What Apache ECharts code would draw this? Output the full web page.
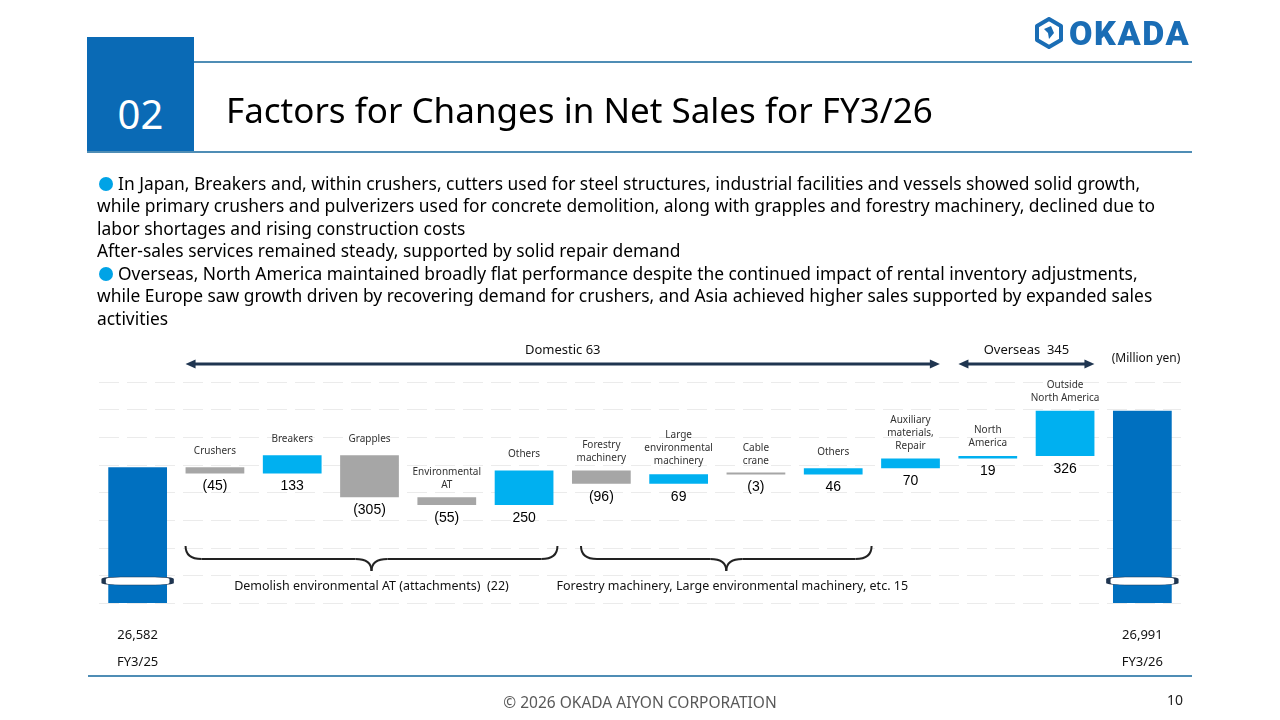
<!DOCTYPE html>
<html>
<head>
<meta charset="utf-8">
<script src="https://cdn.jsdelivr.net/npm/echarts@6/dist/echarts.min.js"></script>
<style>
	body { margin: 0; background: #fff; }
	#slide { position: relative; width: 1280px; height: 720px; overflow: hidden; font-family: 'Noto Sans', sans-serif; color: #000; }
	#chart { position: absolute; left: 0; top: 0; width: 1280px; height: 720px; }
	.abs { position: absolute; white-space: nowrap; }
	.line { position: absolute; height: 2px; background: #4f8db5; }
	.bullet-text { position: absolute; left: 97px; top: 172px; font-size: 17.4px; line-height: 22.3px; white-space: nowrap; }
	.dot { display: inline-block; width: 14px; height: 14px; border-radius: 50%; background: #00a3e6; margin: 0 5px 0 2px; vertical-align: -1px; }
</style>
</head>
<body>
<div id="slide">
	<div id="chart"></div>

	<!-- header -->
	<div class="abs" style="left:87px;top:37px;width:107px;height:116px;background:#0a6ab5"></div>
	<div class="abs" style="left:87px;top:88px;width:107px;text-align:center;font-size:40px;line-height:52px;color:#fff">02</div>
	<div class="line" style="left:194px;top:61px;width:998px"></div>
	<div class="line" style="left:87px;top:151px;width:1105px"></div>
	<div class="abs" style="left:226px;top:85px;font-size:35px;line-height:50px">Factors for Changes in Net Sales for FY3/26</div>

	<!-- logo -->
	<svg class="abs" style="left:1034px;top:17px" width="30" height="32" viewBox="0 0 30 32">
		<polygon points="15,2 27,9 27,23 15,30 3,23 3,9" fill="none" stroke="#1a6db5" stroke-width="4" stroke-linejoin="round"/>
		<polygon points="10,12 17,9 20,16 15,22 14,16" fill="#1a6db5"/>
	</svg>
	<div class="abs" style="left:1069px;top:12px;font-family:Roboto, sans-serif;font-weight:900;font-size:34px;line-height:42px;color:#1a6db5;letter-spacing:1.6px">OKADA</div>

	<!-- bullets -->
	<div class="bullet-text">
		<div><span class="dot"></span>In Japan, Breakers and, within crushers, cutters used for steel structures, industrial facilities and vessels showed solid growth,</div>
		<div>while primary crushers and pulverizers used for concrete demolition, along with grapples and forestry machinery, declined due to</div>
		<div>labor shortages and rising construction costs</div>
		<div>After-sales services remained steady, supported by solid repair demand</div>
		<div style="margin-top:1px"><span class="dot"></span>Overseas, North America maintained broadly flat performance despite the continued impact of rental inventory adjustments,</div>
		<div>while Europe saw growth driven by recovering demand for crushers, and Asia achieved higher sales supported by expanded sales</div>
		<div>activities</div>
	</div>

	<!-- footer -->
	<div class="line" style="left:88px;top:675px;width:1104px;height:1.5px"></div>
	<div class="abs" style="left:0;width:1280px;top:691px;text-align:center;font-size:15.5px;color:#595959">© 2026 OKADA AIYON CORPORATION</div>
	<div class="abs" style="left:1167px;top:690px;font-size:14px;color:#222">10</div>
</div>

<script>
// Waterfall data (million yen)
var categories = ['FY3/25', 'Crushers', 'Breakers', 'Grapples', 'Environmental\nAT', 'Others',
	'Forestry\nmachinery', 'Large\nenvironmental\nmachinery', 'Cable\ncrane', 'Others',
	'Auxiliary\nmaterials,\nRepair', 'North\nAmerica', 'Outside\nNorth America', 'FY3/26']
var startValue = 26582
var endValue = 26991
var changes = [-45, 133, -305, -55, 250, -96, 69, -3, 46, 70, 19, 326]
var totalLabels = ['26,582', '26,991']
var periodLabels = ['FY3/25', 'FY3/26']

// Axis scale
var axisMin = 25600
var axisMax = 27200
var axisStep = 200
var breakValue = 25760

// Group annotations
var groupArrows = [
	{ text: 'Domestic 63', from: 1, to: 10 },
	{ text: 'Overseas  345', from: 11, to: 12 },
]
var groupBraces = [
	{ text: 'Demolish environmental AT (attachments)  (22)', from: 1, to: 5 },
	{ text: 'Forestry machinery, Large environmental machinery, etc. 15', from: 6, to: 9 },
]

var COLOR_TOTAL = '#0070c0'
var COLOR_UP = '#00b0f0'
var COLOR_DOWN = '#a6a6a6'
var NAVY = '#1f3550'

// Build stacked waterfall series
var baseData = []
var barData = []
var capData = []
var running = startValue
var last = categories.length - 1

baseData.push(0)
barData.push({ value: startValue, itemStyle: { color: COLOR_TOTAL }, label: { show: false } })
capData.push('-')
changes.forEach(function (d, i) {
	var next = running + d
	baseData.push(Math.min(running, next))
	barData.push({ value: Math.abs(d), itemStyle: { color: d < 0 ? COLOR_DOWN : COLOR_UP } })
	// single-line names sit a little higher above their bars
	var multi = categories[i + 1].indexOf('\n') >= 0
	capData.push({ value: 0, label: { distance: multi ? 6 : 10 } })
	running = next
})
baseData.push(0)
barData.push({ value: endValue, itemStyle: { color: COLOR_TOTAL }, label: { show: false } })
capData.push('-')

var fmtChange = function (d) {
	return d < 0 ? '(' + Math.abs(d) + ')' : String(d)
}

var chart = echarts.init(document.getElementById('chart'))

var gridLeft = 99, gridTop = 382, gridWidth = 1082, gridHeight = 221

var option = {
	animation: false,
	grid: { left: gridLeft, top: gridTop, width: gridWidth, height: gridHeight },
	xAxis: {
		type: 'category',
		data: categories,
		axisLine: { show: false },
		axisTick: { show: false },
		axisLabel: {
			interval: 0,
			margin: 19,
			formatter: function (value, index) {
				if (index === 0) return '{v|' + totalLabels[0] + '}\n{p|' + periodLabels[0] + '}'
				if (index === last) return '{v|' + totalLabels[1] + '}\n{p|' + periodLabels[1] + '}'
				return ''
			},
			rich: {
				v: { fontFamily: 'Noto Sans', fontSize: 13, color: '#111', lineHeight: 27 },
				p: { fontFamily: 'Noto Sans', fontSize: 13, color: '#111', lineHeight: 27 },
			},
		},
	},
	yAxis: {
		type: 'value',
		min: axisMin,
		max: axisMax,
		interval: axisStep,
		axisLabel: { show: false },
		axisLine: { show: false },
		axisTick: { show: false },
		splitLine: { lineStyle: { color: '#ebebeb', type: [20, 8], width: 1 } },
	},
	series: [
		{
			type: 'bar',
			stack: 'wf',
			barWidth: '76%',
			itemStyle: { color: 'transparent' },
			data: baseData,
			silent: true,
		},
		{
			type: 'bar',
			stack: 'wf',
			barMinHeight: 2,
			data: barData,
			label: {
				show: true,
				position: 'bottom',
				distance: 6,
				fontFamily: 'Liberation Sans',
				fontSize: 14,
				color: '#000',
				formatter: function (p) {
					return fmtChange(changes[p.dataIndex - 1])
				},
			},
		},
		{
			type: 'bar',
			stack: 'wf',
			data: capData,
			label: {
				show: true,
				position: 'top',
				distance: 6,
				fontFamily: 'Noto Sans',
				fontSize: 10,
				lineHeight: 13,
				color: '#333',
				formatter: function (p) {
					return categories[p.dataIndex]
				},
			},
		},
		{
			// axis break marks on the two total bars
			type: 'scatter',
			symbol: 'roundRect',
			symbolSize: [68, 8],
			z: 5,
			itemStyle: { color: '#fff', opacity: 1, borderColor: NAVY, borderWidth: 1.5 },
			data: [[0, breakValue], [last, breakValue]],
			silent: true,
		},
	],
}

chart.setOption(option)

// Annotations placed from the category axis
var band = gridWidth / categories.length
var halfBar = band * 0.38
var xAt = function (i) {
	return chart.convertToPixel({ xAxisIndex: 0 }, i)
}

var graphics = []
var arrowY = 364
groupArrows.forEach(function (g) {
	var x1 = xAt(g.from) - halfBar
	var x2 = xAt(g.to) + halfBar
	graphics.push({
		type: 'line',
		shape: { x1: x1 + 6, y1: arrowY, x2: x2 - 6, y2: arrowY },
		style: { stroke: NAVY, lineWidth: 3 },
	})
	graphics.push({
		type: 'polygon',
		shape: { points: [[x1, arrowY], [x1 + 10, arrowY - 4.5], [x1 + 10, arrowY + 4.5]] },
		style: { fill: NAVY },
	})
	graphics.push({
		type: 'polygon',
		shape: { points: [[x2, arrowY], [x2 - 10, arrowY - 4.5], [x2 - 10, arrowY + 4.5]] },
		style: { fill: NAVY },
	})
	graphics.push({
		type: 'text',
		x: (x1 + x2) / 2,
		y: 350,
		style: { text: g.text, font: '13px "Noto Sans"', fill: '#111', align: 'center', verticalAlign: 'middle' },
	})
})

graphics.push({
	type: 'text',
	x: 1146,
	y: 359,
	style: { text: '(Million yen)', font: '12px "Noto Sans"', fill: '#111', align: 'center', verticalAlign: 'middle' },
})

// Curly braces under the bar groups (second one sits a bit to the right, as in the slide)
var braceShift = [[0, 4], [9, 9]]
var yTop = 546, yMid = 559, yTip = 571, r = 16
var braceStyle = { fill: null, stroke: '#222', lineWidth: 2 }
var curve = function (x1, y1, cx, cy, x2, y2) {
	graphics.push({ type: 'bezierCurve', shape: { x1: x1, y1: y1, cpx1: cx, cpy1: cy, x2: x2, y2: y2 }, style: braceStyle })
}
groupBraces.forEach(function (g, k) {
	var x1 = xAt(g.from) - halfBar + braceShift[k][0]
	var x2 = xAt(g.to) + halfBar + braceShift[k][1]
	var tip = (x1 + x2) / 2
	curve(x1, yTop, x1, yMid, x1 + r, yMid)
	graphics.push({ type: 'line', shape: { x1: x1 + r, y1: yMid, x2: tip - r, y2: yMid }, style: braceStyle })
	curve(tip - r, yMid, tip, yMid, tip, yTip)
	curve(tip, yTip, tip, yMid, tip + r, yMid)
	graphics.push({ type: 'line', shape: { x1: tip + r, y1: yMid, x2: x2 - r, y2: yMid }, style: braceStyle })
	curve(x2 - r, yMid, x2, yMid, x2, yTop)
	graphics.push({
		type: 'text',
		x: tip + (k === 1 ? 6 : 0),
		y: 586,
		style: { text: g.text, font: '12.5px "Noto Sans"', fill: '#111', align: 'center', verticalAlign: 'middle' },
	})
})

chart.setOption({ graphic: graphics })
</script>
</body>
</html>
